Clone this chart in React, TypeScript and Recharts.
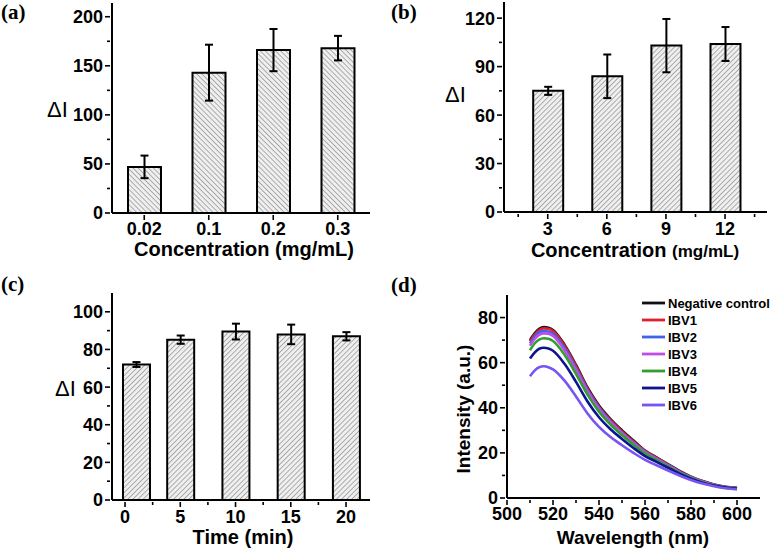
import React from "react";
import { BarChart, Bar, ErrorBar, XAxis, YAxis, LineChart, Line, Legend } from "recharts";

const SANS = '"Liberation Sans", Arial, Helvetica, sans-serif';
const SERIF = '"Liberation Serif", "Times New Roman", serif';
const TICK_FONT = 18;

// (a) ΔI vs probe concentration
const concA = ["0.02", "0.1", "0.2", "0.3"];
const deltaA = [47, 143, 166, 168];
const errA = [11.5, 28.5, 21.5, 12.5];
const yMajorA = [0, 50, 100, 150, 200];
const yMinorA = [25, 75, 125, 175];

// (b) ΔI vs concentration (second reagent)
const concB = [3, 6, 9, 12];
const deltaB = [75, 84, 103, 104];
const errB = [2.5, 13.5, 16.5, 10.5];
const xMajorB = [3, 6, 9, 12];
const xMinorB = [1.5, 4.5, 7.5, 10.5, 13.5];
const yMajorB = [0, 30, 60, 90, 120];
const yMinorB = [15, 45, 75, 105];

// (c) ΔI vs incubation time; the 0 min bar is drawn just off the axis, as in the figure
const timeC = [1, 5, 10, 15, 20];
const deltaC = [72, 85.2, 89.5, 88, 87];
const errC = [1.3, 2.2, 4.2, 5.2, 2.2];
const xMajorC = [0, 5, 10, 15, 20];
const xMinorC = [2.5, 7.5, 12.5, 17.5];
const yMajorC = [0, 20, 40, 60, 80, 100];
const yMinorC = [10, 30, 50, 70, 90];

// (d) emission spectra
const wavelengths = [510, 512, 514, 516, 518, 520, 525, 530, 535, 540, 545, 550, 555, 560, 565, 570, 575, 580, 585, 590, 595, 600];
const negControl = [70, 73, 75, 75.8, 75.5, 74.5, 68, 59, 49, 41, 35, 30, 25.5, 21, 18, 15, 12, 9.5, 7.5, 6, 5, 4.5];
const ibv1 = [69.5, 72.5, 74.5, 75.2, 75, 74, 67.5, 58.5, 48.5, 40.5, 34.5, 29.5, 25, 20.8, 17.8, 14.8, 11.8, 9.3, 7.4, 5.9, 4.9, 4.4];
const ibv2 = [68.5, 71.5, 73.5, 74, 73.8, 72.8, 66.5, 57.5, 47.8, 40, 34, 29, 24.6, 20.5, 17.5, 14.6, 11.6, 9.2, 7.3, 5.8, 4.8, 4.3];
const ibv3 = [67.5, 70.5, 72.3, 73, 72.8, 71.8, 65.5, 56.8, 47.2, 39.5, 33.6, 28.7, 24.3, 20.3, 17.3, 14.4, 11.5, 9.1, 7.2, 5.8, 4.8, 4.3];
const ibv4 = [65.5, 68.5, 70.2, 70.8, 70.6, 69.6, 63.5, 55, 45.8, 38.3, 32.6, 27.9, 23.6, 19.7, 16.8, 14, 11.2, 8.9, 7, 5.6, 4.7, 4.2];
const ibv5 = [61.8, 64.5, 66.2, 66.6, 66.3, 65.3, 59.5, 51.5, 42.8, 35.8, 30.5, 26.2, 22.2, 18.6, 16, 13.4, 10.8, 8.6, 6.8, 5.5, 4.6, 4.1];
const ibv6 = [54, 56.5, 58, 58.4, 58, 57, 52, 45, 37.5, 31.5, 27, 23.4, 20, 16.9, 14.5, 12.2, 10, 8, 6.4, 5.2, 4.3, 3.8];
const spectraNames = ["Negative control", "IBV1", "IBV2", "IBV3", "IBV4", "IBV5", "IBV6"];
const spectraColors = ["#111111", "#e0202c", "#3f63ea", "#c04ee6", "#2fa02f", "#0e1490", "#7655f2"];
const spectraSeries = [negControl, ibv1, ibv2, ibv3, ibv4, ibv5, ibv6];
const xMajorD = [500, 520, 540, 560, 580, 600];
const xMinorD = [510, 530, 550, 570, 590];
const yMajorD = [0, 20, 40, 60, 80];
const yMinorD = [10, 30, 50, 70];

const rowsA = concA.map((c, i) => ({ conc: c, delta: deltaA[i], err: errA[i] }));
const rowsB = concB.map((c, i) => ({ conc: c, delta: deltaB[i], err: errB[i] }));
const rowsC = timeC.map((t, i) => ({ time: t, delta: deltaC[i], err: errC[i] }));
const rowsD = wavelengths.map((wl, i) => {
  const row: Record<string, number> = { wl };
  spectraSeries.forEach((s, k) => {
    row["s" + k] = s[i];
  });
  return row;
});

const axisLine = { stroke: "#000", strokeWidth: 2 };

function leftTick(majors: number[]) {
  return (p: any) => {
    const { x, y, payload } = p;
    const major = majors.includes(payload.value);
    return (
      <g>
        <line x1={x - (major ? 5 : 3)} x2={x} y1={y} y2={y} stroke="#000" strokeWidth={1.6} />
        {major && (
          <text x={x - 7} y={y} dy="0.36em" textAnchor="end" fontFamily={SANS} fontWeight="bold" fontSize={TICK_FONT} fill="#000">
            {payload.value}
          </text>
        )}
      </g>
    );
  };
}

function bottomTick(majors: (number | string)[], gap: number) {
  return (p: any) => {
    const { x, y, payload } = p;
    const major = majors.includes(payload.value);
    return (
      <g>
        <line x1={x} x2={x} y1={y} y2={y + (major ? 5 : 3)} stroke="#000" strokeWidth={1.6} />
        {major && (
          <text x={x} y={y + gap} textAnchor="middle" fontFamily={SANS} fontWeight="bold" fontSize={TICK_FONT} fill="#000">
            {payload.value}
          </text>
        )}
      </g>
    );
  };
}

function Hatch({ id, angle }: { id: string; angle: number }) {
  return (
    <defs>
      <pattern id={id} patternUnits="userSpaceOnUse" width={3.6} height={3.6} patternTransform={`rotate(${angle})`}>
        <rect width={3.6} height={3.6} fill="#efefef" />
        <line x1={0} y1={0} x2={0} y2={3.6} stroke="#808080" strokeWidth={1.2} />
      </pattern>
    </defs>
  );
}

function SpectraLegend({ payload }: any) {
  // keep the plotting order (Negative control first) rather than the alphabetical default
  const items = [...(payload || [])].sort((p: any, q: any) => spectraNames.indexOf(p.value) - spectraNames.indexOf(q.value));
  return (
    <svg width={135} height={125} style={{ display: "block", overflow: "visible" }}>
      {items.map((p: any, i: number) => (
        <g key={p.value}>
          <line x1={0} x2={23} y1={8 + i * 17} y2={8 + i * 17} stroke={p.color} strokeWidth={2.8} />
          <text x={26} y={8 + i * 17} dy="0.36em" fontFamily={SANS} fontWeight="bold" fontSize={13} fill="#000">
            {p.value}
          </text>
        </g>
      ))}
    </svg>
  );
}

const sorted = (a: number[]) => [...a].sort((p, q) => p - q);

export default function App() {
  return (
    <div style={{ position: "absolute", left: 0, top: 0, width: 773, height: 549, background: "#fff", overflow: "hidden" }}>
      {/* (a) */}
      <div style={{ position: "absolute", left: 0, top: 0 }}>
        <BarChart width={390} height={260} data={rowsA} margin={{ top: 3, right: 20, bottom: 0, left: 0 }}>
          <Hatch id="hatchA" angle={-45} />
          <XAxis dataKey="conc" height={47} tickSize={0} tickLine={false} axisLine={axisLine} interval={0} tick={bottomTick(concA, 20)} />
          <YAxis type="number" domain={[0, 214]} ticks={sorted([...yMajorA, ...yMinorA])} width={112} tickSize={0} tickLine={false} axisLine={axisLine} interval={0} tick={leftTick(yMajorA)} />
          <Bar dataKey="delta" fill="url(#hatchA)" stroke="#000" strokeWidth={2} barSize={33} isAnimationActive={false}>
            <ErrorBar dataKey="err" direction="y" width={4} stroke="#000" strokeWidth={2} />
          </Bar>
        </BarChart>
      </div>

      {/* (b) */}
      <div style={{ position: "absolute", left: 390, top: 0 }}>
        <BarChart width={383} height={260} data={rowsB} margin={{ top: 2, right: 6, bottom: 0, left: 0 }}>
          <Hatch id="hatchB" angle={45} />
          <XAxis dataKey="conc" type="number" domain={[0.78, 14.13]} ticks={sorted([...xMajorB, ...xMinorB])} height={48} tickSize={0} tickLine={false} axisLine={axisLine} interval={0} tick={bottomTick(xMajorB, 21)} />
          <YAxis type="number" domain={[0, 130]} ticks={sorted([...yMajorB, ...yMinorB])} width={114} tickSize={0} tickLine={false} axisLine={axisLine} interval={0} tick={leftTick(yMajorB)} />
          <Bar dataKey="delta" fill="url(#hatchB)" stroke="#000" strokeWidth={2} barSize={30} isAnimationActive={false}>
            <ErrorBar dataKey="err" direction="y" width={4} stroke="#000" strokeWidth={2} />
          </Bar>
        </BarChart>
      </div>

      {/* (c) */}
      <div style={{ position: "absolute", left: 0, top: 270 }}>
        <BarChart width={390} height={279} data={rowsC} margin={{ top: 23, right: 20, bottom: 0, left: 0 }}>
          <Hatch id="hatchC" angle={45} />
          <XAxis dataKey="time" type="number" domain={[-1.18, 22.17]} ticks={sorted([...xMajorC, ...xMinorC])} height={49} tickSize={0} tickLine={false} axisLine={axisLine} interval={0} tick={bottomTick(xMajorC, 21)} />
          <YAxis type="number" domain={[0, 110]} ticks={sorted([...yMajorC, ...yMinorC])} width={112} tickSize={0} tickLine={false} axisLine={axisLine} interval={0} tick={leftTick(yMajorC)} />
          <Bar dataKey="delta" fill="url(#hatchC)" stroke="#000" strokeWidth={2} barSize={27} isAnimationActive={false}>
            <ErrorBar dataKey="err" direction="y" width={4} stroke="#000" strokeWidth={2} />
          </Bar>
        </BarChart>
      </div>

      {/* (d) */}
      <div style={{ position: "absolute", left: 390, top: 270 }}>
        <LineChart width={383} height={279} data={rowsD} margin={{ top: 25, right: 13, bottom: 0, left: 0 }}>
          <XAxis dataKey="wl" type="number" domain={[500, 610]} ticks={sorted([...xMajorD, ...xMinorD])} height={51} tickSize={0} tickLine={false} axisLine={axisLine} interval={0} tick={bottomTick(xMajorD, 20)} />
          <YAxis type="number" domain={[0, 90]} ticks={sorted([...yMajorD, ...yMinorD])} width={117} tickSize={0} tickLine={false} axisLine={axisLine} interval={0} tick={leftTick(yMajorD)} />
          {spectraNames.map((name, k) => (
            <Line key={name} dataKey={"s" + k} name={name} type="monotone" stroke={spectraColors[k]} strokeWidth={2.6} dot={false} isAnimationActive={false} />
          ))}
          <Legend layout="vertical" align="center" verticalAlign="middle" wrapperStyle={{ left: 252, top: 25, width: 135 }} content={SpectraLegend} />
        </LineChart>
      </div>

      {/* panel letters and axis titles */}
      <svg width={773} height={549} style={{ position: "absolute", left: 0, top: 0, pointerEvents: "none" }}>
        <g fontFamily={SERIF} fontWeight="bold" fontSize={21} fill="#000">
          <text x={1} y={19}>(a)</text>
          <text x={391} y={19}>(b)</text>
          <text x={1} y={291}>(c)</text>
          <text x={391} y={292}>(d)</text>
        </g>
        <g fontFamily={SANS} fontSize={22} fill="#000">
          <text x={47} y={117}>ΔI</text>
          <text x={445} y={102}>ΔI</text>
          <text x={55} y={396}>ΔI</text>
        </g>
        <g fontFamily={SANS} fontWeight="bold" fontSize={20} fill="#000" textAnchor="middle">
          <text x={244} y={256}>Concentration (mg/mL)</text>
          <text x={635} y={257}>
            Concentration <tspan fontSize={17}>(mg/mL)</tspan>
          </text>
          <text x={243} y={544}>Time (min)</text>
          <text x={633} y={544} fontSize={19}>Wavelength (nm)</text>
          <text x={470} y={409} fontSize={19} transform="rotate(-90 470 409)">Intensity (a.u.)</text>
        </g>
      </svg>
    </div>
  );
}
